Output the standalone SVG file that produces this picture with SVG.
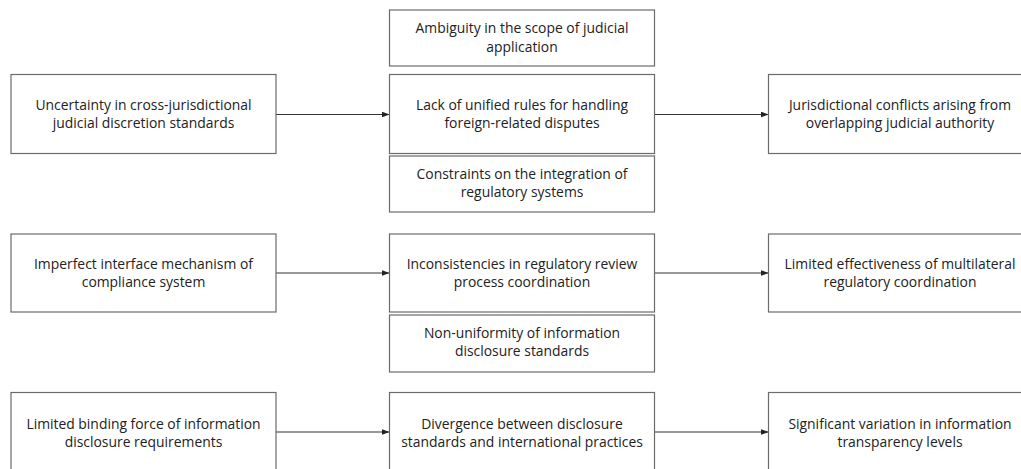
<svg xmlns="http://www.w3.org/2000/svg" width="1021" height="469" viewBox="0 0 1021 469">
<defs>
<style>
.box{fill:#fff;stroke:#6b6b6b;stroke-width:1.2}
.t{font-family:"Open Sans","Noto Sans","Liberation Sans",sans-serif;font-size:13.9px;fill:#222;text-anchor:middle}
.c{stroke:#333;stroke-width:1.1;fill:none}
</style>
<marker id="ah" markerWidth="8" markerHeight="6" refX="7.5" refY="3" orient="auto" markerUnits="userSpaceOnUse">
<path d="M0,0 L8,3 L0,6 Z" fill="#222"/>
</marker>
</defs>
<rect width="1021" height="469" fill="#fff"/>
<g id="connectors">
<line class="c" x1="276" y1="114.5" x2="389" y2="114.5" marker-end="url(#ah)"/>
<line class="c" x1="654" y1="114.5" x2="768" y2="114.5" marker-end="url(#ah)"/>
<line class="c" x1="276" y1="273" x2="389" y2="273" marker-end="url(#ah)"/>
<line class="c" x1="654" y1="273" x2="768" y2="273" marker-end="url(#ah)"/>
<line class="c" x1="276" y1="432" x2="389" y2="432" marker-end="url(#ah)"/>
<line class="c" x1="654" y1="432" x2="768" y2="432" marker-end="url(#ah)"/>
</g>
<g id="n-ambiguity">
<rect class="box" x="389.5" y="10" width="265" height="56"/>
<text class="t" x="522" y="33">Ambiguity in the scope of judicial</text>
<text class="t" x="522" y="52">application</text>
</g>
<g id="n-uncertainty">
<rect class="box" x="11" y="74.5" width="265" height="79"/>
<text class="t" x="143.5" y="109.5">Uncertainty in cross-jurisdictional</text>
<text class="t" x="143.5" y="128">judicial discretion standards</text>
</g>
<g id="n-lack">
<rect class="box" x="389.5" y="74.5" width="265" height="79"/>
<text class="t" x="522" y="109.5">Lack of unified rules for handling</text>
<text class="t" x="522" y="128">foreign-related disputes</text>
</g>
<g id="n-jurisdictional">
<rect class="box" x="768.5" y="74.5" width="265" height="79"/>
<text class="t" x="900" y="109.5">Jurisdictional conflicts arising from</text>
<text class="t" x="900" y="128">overlapping judicial authority</text>
</g>
<g id="n-constraints">
<rect class="box" x="389.5" y="156" width="265" height="56"/>
<text class="t" x="522" y="178.5">Constraints on the integration of</text>
<text class="t" x="522" y="197">regulatory systems</text>
</g>
<g id="n-imperfect">
<rect class="box" x="11" y="234" width="265" height="78"/>
<text class="t" x="143.5" y="268.5">Imperfect interface mechanism of</text>
<text class="t" x="143.5" y="287">compliance system</text>
</g>
<g id="n-inconsistencies">
<rect class="box" x="389.5" y="234" width="265" height="78"/>
<text class="t" x="522" y="268.5">Inconsistencies in regulatory review</text>
<text class="t" x="522" y="287">process coordination</text>
</g>
<g id="n-limited-effectiveness">
<rect class="box" x="768.5" y="234" width="265" height="78"/>
<text class="t" x="900" y="268.5">Limited effectiveness of multilateral</text>
<text class="t" x="900" y="287">regulatory coordination</text>
</g>
<g id="n-nonuniformity">
<rect class="box" x="389.5" y="315" width="265" height="57"/>
<text class="t" x="522" y="337.5">Non-uniformity of information</text>
<text class="t" x="522" y="356">disclosure standards</text>
</g>
<g id="n-limited-binding">
<rect class="box" x="11" y="392.5" width="265" height="79"/>
<text class="t" x="143.5" y="428.5">Limited binding force of information</text>
<text class="t" x="143.5" y="447">disclosure requirements</text>
</g>
<g id="n-divergence">
<rect class="box" x="389.5" y="392.5" width="265" height="79"/>
<text class="t" x="522" y="428.5">Divergence between disclosure</text>
<text class="t" x="522" y="447">standards and international practices</text>
</g>
<g id="n-significant">
<rect class="box" x="768.5" y="392.5" width="265" height="79"/>
<text class="t" x="900" y="428.5">Significant variation in information</text>
<text class="t" x="900" y="447">transparency levels</text>
</g>
</svg>
